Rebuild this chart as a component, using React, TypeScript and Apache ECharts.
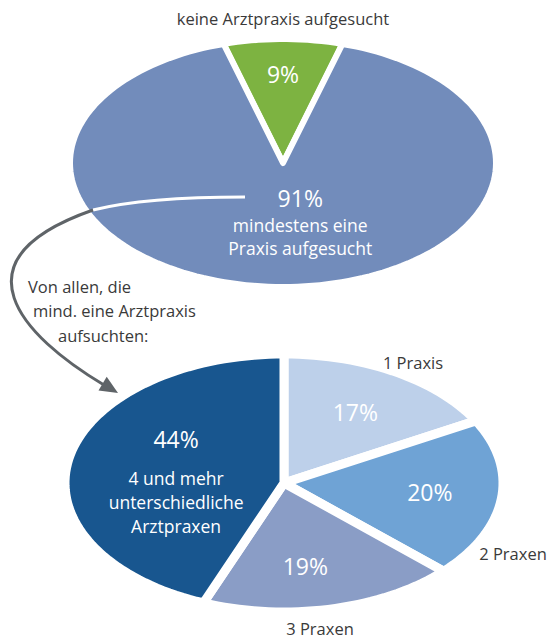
import React, { useEffect, useRef } from "react";
import * as echarts from "echarts";

const topCategories = ["keine Arztpraxis aufgesucht", "mindestens eine Praxis aufgesucht"];
const topValues = [9, 91];
const bottomCategories = ["1 Praxis", "2 Praxen", "3 Praxen", "4 und mehr unterschiedliche Arztpraxen"];
const bottomValues = [17, 20, 19, 44];

const topColors = ["#7db341", "#728cbb"];
const bottomColors = ["#bdd0ea", "#6fa3d5", "#8a9dc6", "#18568f"];

const FONT = '"Open Sans", "DejaVu Sans", sans-serif';

type PieCfg = {
  cx: number; cy: number; rx: number; ry: number; startDeg: number; border: number;
  labelFrac: number[]; labelShift: number[];
  sub: (string | null)[]; subGap: number[]; subLine: number;
};

function pieRenderer(values: number[], colors: string[], cfg: PieCfg) {
  const total = values.reduce((a, b) => a + b, 0);
  return (params: any, api: any) => {
    const i = params.dataIndex;
    const v = api.value(0);
    let start = cfg.startDeg;
    for (let k = 0; k < i; k++) start += (values[k] / total) * 360;
    const end = start + (v / total) * 360;
    const pts: number[][] = [[cfg.cx, cfg.cy]];
    const n = Math.max(8, Math.ceil((end - start) / 2));
    for (let j = 0; j <= n; j++) {
      const a = ((start + ((end - start) * j) / n) * Math.PI) / 180;
      pts.push([cfg.cx + cfg.rx * Math.sin(a), cfg.cy - cfg.ry * Math.cos(a)]);
    }
    const mid = (((start + end) / 2 + cfg.labelShift[i]) * Math.PI) / 180;
    const f = cfg.labelFrac[i];
    const lx = cfg.cx + cfg.rx * f * Math.sin(mid);
    const ly = cfg.cy - cfg.ry * f * Math.cos(mid);
    const children: any[] = [
      {
        type: "polygon",
        shape: { points: pts },
        style: { fill: colors[i], stroke: "#ffffff", lineWidth: cfg.border, lineJoin: "round" },
      },
      {
        type: "text",
        x: lx,
        y: ly,
        style: {
          text: v + "%",
          fill: "#ffffff",
          font: `23px ${FONT}`,
          align: "center",
          verticalAlign: "middle",
        },
      },
    ];
    const s = cfg.sub[i];
    if (s) {
      children.push({
        type: "text",
        x: lx,
        y: ly + cfg.subGap[i] - cfg.subLine / 2,
        style: {
          text: s,
          fill: "#ffffff",
          font: `17.5px ${FONT}`,
          align: "center",
          verticalAlign: "top",
          lineHeight: cfg.subLine,
        },
      });
    }
    return { type: "group", children };
  };
}

const topCfg: PieCfg = {
  cx: 283, cy: 163, rx: 213, ry: 124, startDeg: -(topValues[0] / 100) * 180, border: 6,
  labelFrac: [0.72, 0.29], labelShift: [0, -16.2],
  sub: [null, "mindestens eine\nPraxis aufgesucht"], subGap: [0, 27], subLine: 23,
};

const bottomCfg: PieCfg = {
  cx: 284, cy: 483, rx: 219, ry: 129, startDeg: 0, border: 9,
  labelFrac: [0.64, 0.67, 0.65, 0.6], labelShift: [0, -1, 4, 24],
  sub: [null, null, null, "4 und mehr\nunterschiedliche\nArztpraxen"], subGap: [0, 0, 0, 39], subLine: 24,
};

export default function App() {
  const ref = useRef<HTMLDivElement>(null);
  useEffect(() => {
    if (!ref.current) return;
    const chart = echarts.init(ref.current, null, { renderer: "svg" });
    const textStyle = (t: string, x: number, y: number, align = "center") => ({
      type: "text",
      x,
      y,
      z: 100,
      style: { text: t, fill: "#3a3a3a", font: `16.5px ${FONT}`, align, verticalAlign: "middle" },
    });
    chart.setOption({
      animation: false,
      backgroundColor: "#ffffff",
      series: [
        {
          type: "custom",
          name: "top",
          coordinateSystem: "none",
          data: topValues.map((v, i) => ({ name: topCategories[i], value: [v] })),
          renderItem: pieRenderer(topValues, topColors, topCfg),
          z: 2,
        },
        {
          type: "custom",
          name: "bottom",
          coordinateSystem: "none",
          data: bottomValues.map((v, i) => ({ name: bottomCategories[i], value: [v] })),
          renderItem: pieRenderer(bottomValues, bottomColors, bottomCfg),
          z: 2,
        },
      ],
      graphic: [
        {
          type: "bezierCurve",
          z: 100,
          shape: { x1: 245, y1: 197, cpx1: 180, cpy1: 197, cpx2: 125, cpy2: 202, x2: 93, y2: 210 },
          style: { stroke: "#ffffff", lineWidth: 3, fill: null },
        },
        {
          type: "bezierCurve",
          z: 100,
          shape: { x1: 93, y1: 210, cpx1: -50, cpy1: 260, cpx2: 22, cpy2: 336, x2: 104, y2: 385 },
          style: { stroke: "#5f6468", lineWidth: 3, fill: null },
        },
        {
          type: "polygon",
          z: 100,
          shape: { points: [[118, 393], [98.5, 390.6], [106.7, 376.8]] },
          style: { fill: "#5f6468" },
        },
        textStyle(topCategories[0], 283, 18),
        textStyle("Von allen, die", 28, 286, "left"),
        textStyle("mind. eine Arztpraxis", 33, 310, "left"),
        textStyle("aufsuchten:", 58, 335, "left"),
        textStyle(bottomCategories[0], 413, 362),
        textStyle(bottomCategories[1], 513, 553),
        textStyle(bottomCategories[2], 320, 628),
      ],
    });
    return () => chart.dispose();
  }, []);
  return (
    <div
      ref={ref}
      style={{ position: "fixed", left: 0, top: 0, width: 549, height: 639, background: "#fff" }}
    />
  );
}
